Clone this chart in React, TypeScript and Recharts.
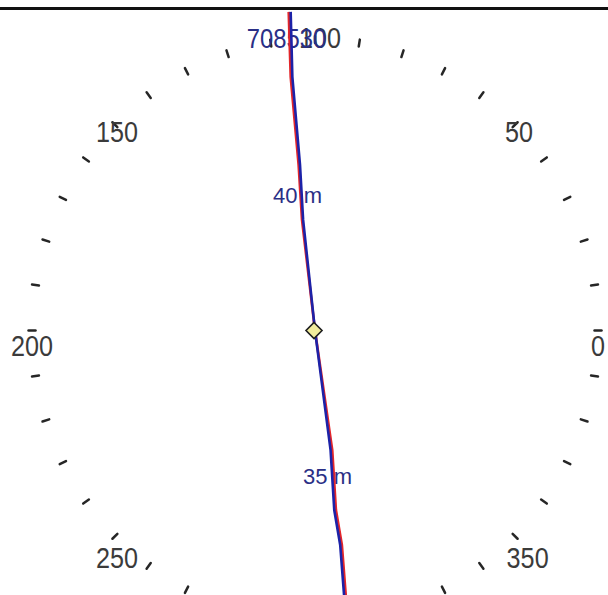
import { ScatterChart, Scatter, XAxis, YAxis } from "recharts";

// bearings in gon (400 per turn), 0 at east, counter-clockwise
const tickGons = [
  0, 10, 20, 30, 40, 50, 60, 70, 80, 90, 100, 110, 120, 130, 140, 150, 160, 170, 180, 190,
  200, 210, 220, 230, 240, 250, 260, 270, 280, 290, 300, 310, 320, 330, 340, 350, 360, 370, 380, 390,
];
// 300 sits below the visible frame
const labelGons = [0, 50, 100, 150, 200, 250, 350];
const labelTexts = ["0", "50", "100", "150", "200", "250", "350"];

// track (ring radius = 100)
const blueTrack = [
  { x: -8.6, y: 109.5 },
  { x: -8.0, y: 87.1 },
  { x: -5.3, y: 56.9 },
  { x: -4.2, y: 38.0 },
  { x: 0, y: 0 },
  { x: 5.5, y: -41.1 },
  { x: 6.8, y: -61.7 },
  { x: 8.9, y: -73.7 },
  { x: 10.4, y: -92.6 },
];
const redTrack = [
  { x: -9.3, y: 109.5 },
  { x: -8.6, y: 87.1 },
  { x: -5.8, y: 56.9 },
  { x: -4.6, y: 38.0 },
  { x: 0, y: 0 },
  { x: 6.1, y: -41.1 },
  { x: 7.4, y: -61.7 },
  { x: 9.5, y: -73.7 },
  { x: 11.0, y: -92.6 },
];
const trackLabels = [
  { x: -24.1, y: 97.1, text: "708530", big: true },
  { x: -14.8, y: 43.8, text: "40 m", big: false },
  { x: -4.2, y: -52.6, text: "35 m", big: false },
];
const centerPoint = [{ x: -0.35, y: 0 }];

const RING = 100;
const toRad = (g: number) => (g * Math.PI) / 200;

const tickPoints = tickGons.map((g) => ({
  g,
  x: RING * Math.cos(toRad(g)),
  y: RING * Math.sin(toRad(g)),
}));
const labelPoints = labelGons.map((g, i) => ({
  g,
  text: labelTexts[i],
  x: RING * Math.cos(toRad(g)),
  y: RING * Math.sin(toRad(g)),
}));

// pixel nudges of the ring labels relative to their tick
const labelOffsets = [
  { dx: 0, dy: 25 },
  { dx: 4, dy: 17 },
  { dx: 5, dy: 8.5 },
  { dx: 2, dy: 17 },
  { dx: 0, dy: 25 },
  { dx: 2, dy: 31.5 },
  { dx: 12.5, dy: 31.5 },
];

const RingTick = (props: any) => {
  const { cx, cy, payload } = props;
  const a = toRad(payload.g);
  const c = Math.cos(a);
  const s = Math.sin(a);
  const h = 3.5;
  return (
    <line
      x1={cx - c * h}
      y1={cy + s * h}
      x2={cx + c * h}
      y2={cy - s * h}
      stroke="#262626"
      strokeWidth={2.5}
      strokeLinecap="round"
    />
  );
};

const RingLabel = (props: any) => {
  const { cx, cy, payload, index } = props;
  const off = labelOffsets[index] || { dx: 0, dy: 0 };
  return (
    <text
      transform={`translate(${cx + off.dx},${cy + off.dy}) scale(0.84,1)`}
      textAnchor="middle"
      fontFamily="'Liberation Sans', Arial, sans-serif"
      fontSize={30}
      fill="#3b3b3b"
    >
      {payload.text}
    </text>
  );
};

const TrackLabel = (props: any) => {
  const { cx, cy, payload } = props;
  const sx = payload.big ? 0.85 : 1;
  return (
    <text
      transform={`translate(${cx},${cy}) scale(${sx},1)`}
      textAnchor="start"
      fontFamily="'Liberation Sans', Arial, sans-serif"
      fontSize={payload.big ? 28 : 22}
      fill="#2a2f86"
    >
      {payload.text}
    </text>
  );
};

const Diamond = (props: any) => {
  const { cx, cy } = props;
  const r = 8;
  return (
    <polygon
      points={`${cx},${cy - r} ${cx + r},${cy} ${cx},${cy + r} ${cx - r},${cy}`}
      fill="#f1ec9c"
      stroke="#1e1e1e"
      strokeWidth={1.6}
    />
  );
};

const NoDot = () => <g />;

const App = () => {
  return (
    <div style={{ position: "absolute", left: 0, top: 0, width: 608, height: 595, background: "#fff" }}>
      <div style={{ position: "absolute", left: 0, top: 7, width: 608, height: 3, background: "#111" }} />
      <ScatterChart width={608} height={595} margin={{ top: 0, right: 0, bottom: 0, left: 0 }}>
        <XAxis type="number" dataKey="x" domain={[-111.31, 103.53]} allowDataOverflow hide />
        <YAxis type="number" dataKey="y" domain={[-90.89, 113.57]} allowDataOverflow hide />
        <Scatter data={tickPoints} shape={RingTick} isAnimationActive={false} />
        <Scatter data={labelPoints} shape={RingLabel} isAnimationActive={false} />
        <Scatter data={trackLabels} shape={TrackLabel} isAnimationActive={false} />
        <Scatter
          data={redTrack}
          line={{ stroke: "#e3262a", strokeWidth: 2.6 }}
          shape={NoDot}
          isAnimationActive={false}
        />
        <Scatter
          data={blueTrack}
          line={{ stroke: "#1c22a8", strokeWidth: 2.6 }}
          shape={NoDot}
          isAnimationActive={false}
        />
        <Scatter data={centerPoint} shape={Diamond} isAnimationActive={false} />
      </ScatterChart>
    </div>
  );
};

export default App;
